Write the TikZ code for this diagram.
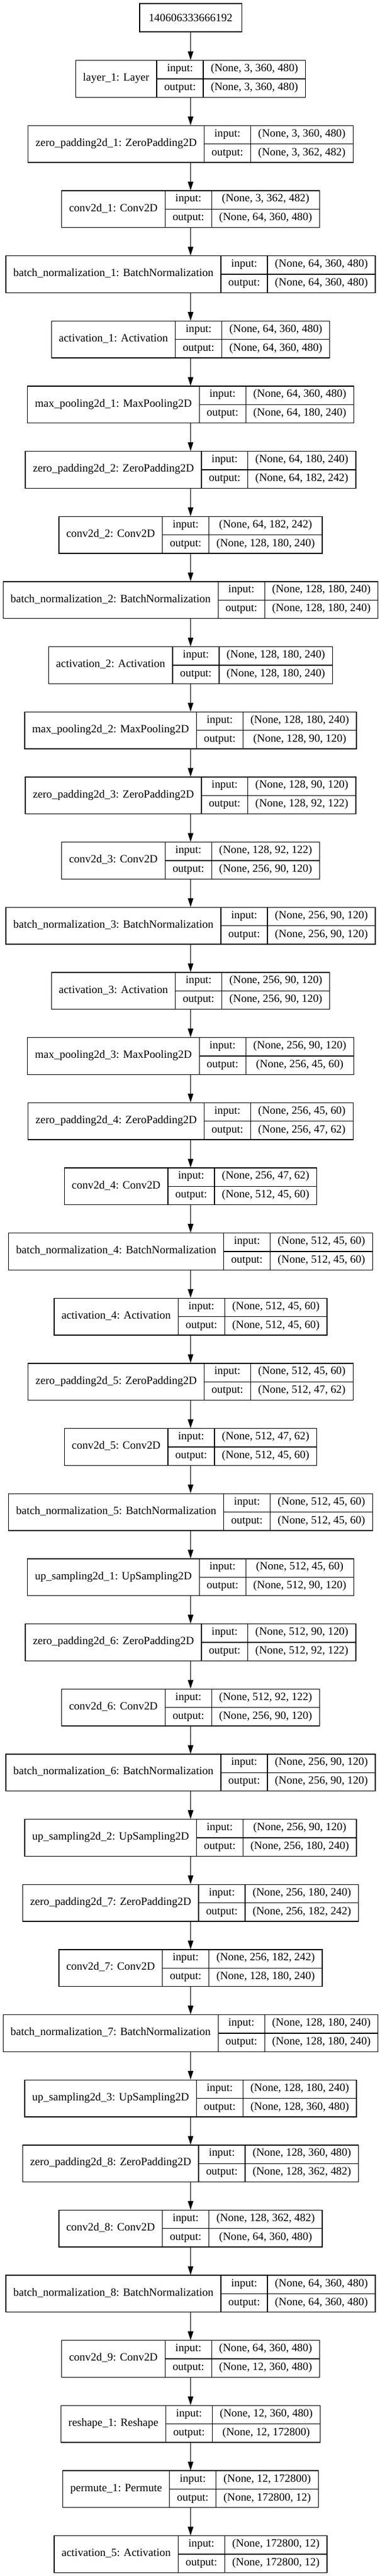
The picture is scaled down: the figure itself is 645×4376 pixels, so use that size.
\documentclass[tikz,border=0pt]{standalone}
\usepackage{fontspec}
\usepackage{hhline}
\setmainfont{Liberation Serif}
\usetikzlibrary{arrows.meta}

\setlength{\arrayrulewidth}{1pt}
\setlength{\tabcolsep}{9.5pt}
\newcommand{\recfont}{\fontsize{14.2}{17}\selectfont}
\newcommand{\recstrut}{\rule[-8.75pt]{0pt}{23pt}}
% one layer as a record: #1 layer text, #2 input shape, #3 output shape
\newcommand{\kerasrec}[3]{%
  \begin{tabular}{c|c|c}
    \raisebox{-12.1pt}[0pt][0pt]{#1} & input:\recstrut & #2 \\ \hhline{~|-|-}
    & output:\recstrut & #3
  \end{tabular}}

\begin{document}
\begin{tikzpicture}[x=0.75pt,y=0.75pt,yscale=-1,xscale=1,
  record/.style={draw, line width=1pt, inner sep=0pt, font=\recfont},
  idbox/.style={draw, line width=1pt, inner sep=0pt, font=\recfont, minimum height=36pt, minimum width=130pt},
  flow/.style={-{Triangle[length=11pt,width=7pt]}, line width=1pt}]
\useasboundingbox (0,0) rectangle (645,4376);

% Text Node
\node [idbox] (model) at (323.5,30) {140606333666192};

%Shape: Record
\node [record] (layer1) at (323.5,134.00) {\kerasrec{layer\_1: Layer}{(None, 3, 360, 480)}{(None, 3, 360, 480)}};
\node [record] (zpad1) at (323.5,244.66) {\kerasrec{zero\_padding2d\_1: ZeroPadding2D}{(None, 3, 360, 480)}{(None, 3, 362, 482)}};
\node [record] (conv1) at (323.5,355.32) {\kerasrec{conv2d\_1: Conv2D}{(None, 3, 362, 482)}{(None, 64, 360, 480)}};
\node [record] (bnorm1) at (323.5,465.98) {\kerasrec{batch\_normalization\_1: BatchNormalization}{(None, 64, 360, 480)}{(None, 64, 360, 480)}};
\node [record] (act1) at (323.5,576.64) {\kerasrec{activation\_1: Activation}{(None, 64, 360, 480)}{(None, 64, 360, 480)}};
\node [record] (pool1) at (323.5,687.30) {\kerasrec{max\_pooling2d\_1: MaxPooling2D}{(None, 64, 360, 480)}{(None, 64, 180, 240)}};
%Shape: Record
\node [record] (zpad2) at (323.5,797.96) {\kerasrec{zero\_padding2d\_2: ZeroPadding2D}{(None, 64, 180, 240)}{(None, 64, 182, 242)}};
\node [record] (conv2) at (323.5,908.62) {\kerasrec{conv2d\_2: Conv2D}{(None, 64, 182, 242)}{(None, 128, 180, 240)}};
\node [record] (bnorm2) at (323.5,1019.28) {\kerasrec{batch\_normalization\_2: BatchNormalization}{(None, 128, 180, 240)}{(None, 128, 180, 240)}};
\node [record] (act2) at (323.5,1129.94) {\kerasrec{activation\_2: Activation}{(None, 128, 180, 240)}{(None, 128, 180, 240)}};
\node [record] (pool2) at (323.5,1240.60) {\kerasrec{max\_pooling2d\_2: MaxPooling2D}{(None, 128, 180, 240)}{(None, 128, 90, 120)}};
%Shape: Record
\node [record] (zpad3) at (323.5,1351.26) {\kerasrec{zero\_padding2d\_3: ZeroPadding2D}{(None, 128, 90, 120)}{(None, 128, 92, 122)}};
\node [record] (conv3) at (323.5,1461.92) {\kerasrec{conv2d\_3: Conv2D}{(None, 128, 92, 122)}{(None, 256, 90, 120)}};
\node [record] (bnorm3) at (323.5,1572.58) {\kerasrec{batch\_normalization\_3: BatchNormalization}{(None, 256, 90, 120)}{(None, 256, 90, 120)}};
\node [record] (act3) at (323.5,1683.24) {\kerasrec{activation\_3: Activation}{(None, 256, 90, 120)}{(None, 256, 90, 120)}};
\node [record] (pool3) at (323.5,1793.90) {\kerasrec{max\_pooling2d\_3: MaxPooling2D}{(None, 256, 90, 120)}{(None, 256, 45, 60)}};
%Shape: Record
\node [record] (zpad4) at (323.5,1904.56) {\kerasrec{zero\_padding2d\_4: ZeroPadding2D}{(None, 256, 45, 60)}{(None, 256, 47, 62)}};
\node [record] (conv4) at (323.5,2015.22) {\kerasrec{conv2d\_4: Conv2D}{(None, 256, 47, 62)}{(None, 512, 45, 60)}};
\node [record] (bnorm4) at (323.5,2125.88) {\kerasrec{batch\_normalization\_4: BatchNormalization}{(None, 512, 45, 60)}{(None, 512, 45, 60)}};
\node [record] (act4) at (323.5,2236.54) {\kerasrec{activation\_4: Activation}{(None, 512, 45, 60)}{(None, 512, 45, 60)}};
%Shape: Record
\node [record] (zpad5) at (323.5,2347.20) {\kerasrec{zero\_padding2d\_5: ZeroPadding2D}{(None, 512, 45, 60)}{(None, 512, 47, 62)}};
\node [record] (conv5) at (323.5,2457.86) {\kerasrec{conv2d\_5: Conv2D}{(None, 512, 47, 62)}{(None, 512, 45, 60)}};
\node [record] (bnorm5) at (323.5,2568.52) {\kerasrec{batch\_normalization\_5: BatchNormalization}{(None, 512, 45, 60)}{(None, 512, 45, 60)}};
%Shape: Record
\node [record] (upsamp1) at (323.5,2679.18) {\kerasrec{up\_sampling2d\_1: UpSampling2D}{(None, 512, 45, 60)}{(None, 512, 90, 120)}};
\node [record] (zpad6) at (323.5,2789.84) {\kerasrec{zero\_padding2d\_6: ZeroPadding2D}{(None, 512, 90, 120)}{(None, 512, 92, 122)}};
\node [record] (conv6) at (323.5,2900.50) {\kerasrec{conv2d\_6: Conv2D}{(None, 512, 92, 122)}{(None, 256, 90, 120)}};
\node [record] (bnorm6) at (323.5,3011.16) {\kerasrec{batch\_normalization\_6: BatchNormalization}{(None, 256, 90, 120)}{(None, 256, 90, 120)}};
%Shape: Record
\node [record] (upsamp2) at (323.5,3121.82) {\kerasrec{up\_sampling2d\_2: UpSampling2D}{(None, 256, 90, 120)}{(None, 256, 180, 240)}};
\node [record] (zpad7) at (323.5,3232.48) {\kerasrec{zero\_padding2d\_7: ZeroPadding2D}{(None, 256, 180, 240)}{(None, 256, 182, 242)}};
\node [record] (conv7) at (323.5,3343.14) {\kerasrec{conv2d\_7: Conv2D}{(None, 256, 182, 242)}{(None, 128, 180, 240)}};
\node [record] (bnorm7) at (323.5,3453.80) {\kerasrec{batch\_normalization\_7: BatchNormalization}{(None, 128, 180, 240)}{(None, 128, 180, 240)}};
%Shape: Record
\node [record] (upsamp3) at (323.5,3564.46) {\kerasrec{up\_sampling2d\_3: UpSampling2D}{(None, 128, 180, 240)}{(None, 128, 360, 480)}};
\node [record] (zpad8) at (323.5,3675.12) {\kerasrec{zero\_padding2d\_8: ZeroPadding2D}{(None, 128, 360, 480)}{(None, 128, 362, 482)}};
\node [record] (conv8) at (323.5,3785.78) {\kerasrec{conv2d\_8: Conv2D}{(None, 128, 362, 482)}{(None, 64, 360, 480)}};
\node [record] (bnorm8) at (323.5,3896.44) {\kerasrec{batch\_normalization\_8: BatchNormalization}{(None, 64, 360, 480)}{(None, 64, 360, 480)}};
%Shape: Record
\node [record] (conv9) at (323.5,4007.10) {\kerasrec{conv2d\_9: Conv2D}{(None, 64, 360, 480)}{(None, 12, 360, 480)}};
\node [record] (reshape1) at (323.5,4117.76) {\kerasrec{reshape\_1: Reshape}{(None, 12, 360, 480)}{(None, 12, 172800)}};
\node [record] (permute1) at (323.5,4228.42) {\kerasrec{permute\_1: Permute}{(None, 12, 172800)}{(None, 172800, 12)}};
\node [record] (act5) at (323.5,4339.08) {\kerasrec{activation\_5: Activation}{(None, 172800, 12)}{(None, 172800, 12)}};

%Straight Lines
\draw [flow] (model) -- (layer1);
\draw [flow] (layer1) -- (zpad1);
\draw [flow] (zpad1) -- (conv1);
\draw [flow] (conv1) -- (bnorm1);
\draw [flow] (bnorm1) -- (act1);
\draw [flow] (act1) -- (pool1);
\draw [flow] (pool1) -- (zpad2);
\draw [flow] (zpad2) -- (conv2);
\draw [flow] (conv2) -- (bnorm2);
\draw [flow] (bnorm2) -- (act2);
\draw [flow] (act2) -- (pool2);
\draw [flow] (pool2) -- (zpad3);
\draw [flow] (zpad3) -- (conv3);
\draw [flow] (conv3) -- (bnorm3);
\draw [flow] (bnorm3) -- (act3);
\draw [flow] (act3) -- (pool3);
\draw [flow] (pool3) -- (zpad4);
\draw [flow] (zpad4) -- (conv4);
\draw [flow] (conv4) -- (bnorm4);
\draw [flow] (bnorm4) -- (act4);
\draw [flow] (act4) -- (zpad5);
\draw [flow] (zpad5) -- (conv5);
\draw [flow] (conv5) -- (bnorm5);
\draw [flow] (bnorm5) -- (upsamp1);
\draw [flow] (upsamp1) -- (zpad6);
\draw [flow] (zpad6) -- (conv6);
\draw [flow] (conv6) -- (bnorm6);
\draw [flow] (bnorm6) -- (upsamp2);
\draw [flow] (upsamp2) -- (zpad7);
\draw [flow] (zpad7) -- (conv7);
\draw [flow] (conv7) -- (bnorm7);
\draw [flow] (bnorm7) -- (upsamp3);
\draw [flow] (upsamp3) -- (zpad8);
\draw [flow] (zpad8) -- (conv8);
\draw [flow] (conv8) -- (bnorm8);
\draw [flow] (bnorm8) -- (conv9);
\draw [flow] (conv9) -- (reshape1);
\draw [flow] (reshape1) -- (permute1);
\draw [flow] (permute1) -- (act5);

\end{tikzpicture}
\end{document}
